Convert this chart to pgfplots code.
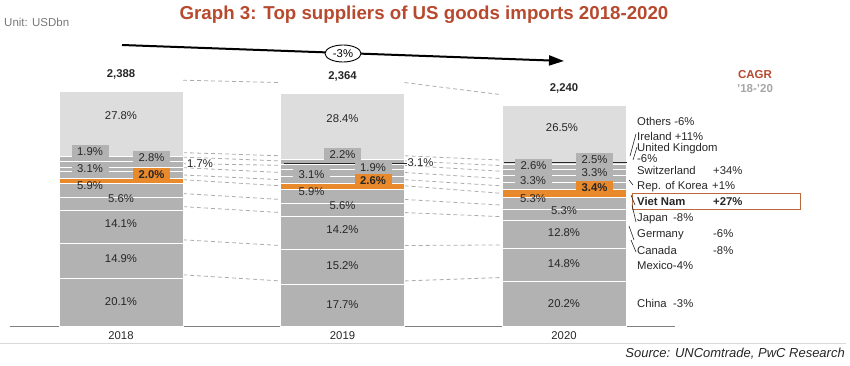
\documentclass[border=0pt]{standalone}
\usepackage{fontspec}
\setmainfont{Liberation Sans}
\usepackage{pgfplots}
\pgfplotsset{compat=1.18}
\usepackage{pgfplotstable}
\usetikzlibrary{arrows.meta,shapes.geometric}

\definecolor{stackgray}{RGB}{178,178,178}
\definecolor{othersgray}{RGB}{221,221,221}
\definecolor{vnorange}{RGB}{232,137,43}
\definecolor{dashgray}{RGB}{172,172,172}
\definecolor{titlered}{RGB}{183,73,46}
\definecolor{txt}{RGB}{38,38,38}
\definecolor{basegray}{RGB}{128,128,128}
\definecolor{unitgray}{RGB}{120,120,120}
\definecolor{periodgray}{RGB}{165,165,165}
\definecolor{boxbrown}{RGB}{185,105,60}

% values in USD bn (share x total)
\pgfplotstableread{
x china mexico canada germany japan vn korea swiss uk ireland others
0 480.0 355.8 336.7 133.7 140.9 47.8 74.0 40.6 66.9 45.4 666.2
1 418.4 359.3 335.7 132.4 139.5 61.5 73.3 73.3 44.9 52.0 673.7
2 452.5 331.5 286.7 118.7 118.7 76.2 73.9 73.9 58.2 56.0 593.7
}\suppliers

\newcommand{\lblfont}{\fontsize{11.3}{13}\selectfont}

\begin{document}
\begin{tikzpicture}
\useasboundingbox (0,0) rectangle (850pt,365pt);
\tikzset{
  lbl/.style={font=\lblfont, text=txt, text height=8.1pt, text depth=0pt, inner sep=0pt},
  box/.style={lbl, fill=stackgray, minimum width=37pt, minimum height=12pt},
  obox/.style={box, fill=vnorange, font=\lblfont\bfseries},
  conn/.style={dashgray, line width=0.8pt, dash pattern=on 4pt off 3pt, no marks},
}
\pgfplotsset{common/.style={x=221.5pt, y=0.0984pt, xmin=-0.5, xmax=2.5,
  ymin=0, ymax=2700, anchor=south west, at={(10.25pt,39pt)}, clip=false}}

% dashed connectors between the bars
\begin{axis}[common, hide axis]
\addplot[conn] coordinates {(0.28,520) (0.72,458)};
\addplot[conn] coordinates {(0.28,876) (0.72,818)};
\addplot[conn] coordinates {(0.28,1213) (0.72,1153)};
\addplot[conn] coordinates {(0.28,1346) (0.72,1286)};
\addplot[conn] coordinates {(0.28,1487) (0.72,1425)};
\addplot[conn] coordinates {(0.28,1535) (0.72,1487)};
\addplot[conn] coordinates {(0.28,1609) (0.72,1560)};
\addplot[conn] coordinates {(0.28,1650) (0.72,1633)};
\addplot[conn] coordinates {(0.28,1716) (0.72,1678)};
\addplot[conn] coordinates {(0.28,1762) (0.72,1730)};
\addplot[conn] coordinates {(0.28,2498) (0.72,2474)};
\addplot[conn] coordinates {(1.28,458) (1.72,493)};
\addplot[conn] coordinates {(1.28,818) (1.72,824)};
\addplot[conn] coordinates {(1.28,1153) (1.72,1111)};
\addplot[conn] coordinates {(1.28,1286) (1.72,1229)};
\addplot[conn] coordinates {(1.28,1425) (1.72,1348)};
\addplot[conn] coordinates {(1.28,1487) (1.72,1424)};
\addplot[conn] coordinates {(1.28,1560) (1.72,1498)};
\addplot[conn] coordinates {(1.28,1633) (1.72,1572)};
\addplot[conn] coordinates {(1.28,1678) (1.72,1630)};
\addplot[conn] coordinates {(1.28,1730) (1.72,1686)};
\addplot[conn] coordinates {(1.28,2474) (1.72,2350)};
\end{axis}

% stacked bars
\begin{axis}[common, ybar stacked, bar width=124pt,
  axis x line=bottom, axis y line=none, ytick=\empty,
  x axis line style={draw=basegray, line width=1pt, -},
  xtick={0,1,2}, xticklabels={2018,2019,2020}, major tick length=0pt,
  xticklabel style={font=\lblfont, text=txt, yshift=-2pt},
  /pgf/number format/assume math mode=true,
  every axis plot/.append style={draw=white, line width=0.9pt}]
\addplot[fill=stackgray] table[x=x, y=china] {\suppliers};
\addplot[fill=stackgray] table[x=x, y=mexico] {\suppliers};
\addplot[fill=stackgray] table[x=x, y=canada] {\suppliers};
\addplot[fill=stackgray] table[x=x, y=germany] {\suppliers};
\addplot[fill=stackgray] table[x=x, y=japan] {\suppliers};
\addplot[fill=vnorange] table[x=x, y=vn] {\suppliers};
\addplot[fill=stackgray] table[x=x, y=korea] {\suppliers};
\addplot[fill=stackgray] table[x=x, y=swiss] {\suppliers};
\addplot[fill=stackgray] table[x=x, y=uk] {\suppliers};
\addplot[fill=stackgray] table[x=x, y=ireland] {\suppliers};
\addplot[fill=othersgray] table[x=x, y=others] {\suppliers};
\end{axis}

% value labels on top of the bars
\begin{axis}[common, hide axis]
% 2018
\node[lbl] at (axis cs:0,2144) {27.8\%};
\node[box, xshift=-31pt] at (axis cs:0,1778) {1.9\%};
\node[box, xshift=30.5pt] at (axis cs:0,1717) {2.8\%};
\node[box, xshift=-31pt] at (axis cs:0,1606) {3.1\%};
\node[obox, xshift=30.5pt] at (axis cs:0,1545) {2.0\%};
\node[lbl, xshift=-31pt] at (axis cs:0,1433) {5.9\%};
\node[lbl] at (axis cs:0,1301) {5.6\%};
\node[lbl] at (axis cs:0,1047) {14.1\%};
\node[lbl] at (axis cs:0,691) {14.9\%};
\node[lbl] at (axis cs:0,254) {20.1\%};
\draw[txt, line width=0.9pt] (axis cs:0,1656) ++(52pt,0) -- ++(12pt,0);
\node[lbl, anchor=west, fill=white, inner xsep=1pt, xshift=65pt] at (axis cs:0,1656) {1.7\%};
\node[lbl, font=\lblfont\bfseries] at (axis cs:0,2571) {2,388};
% 2019
\node[lbl] at (axis cs:1,2114) {28.4\%};
\node[box] at (axis cs:1,1743) {2.2\%};
\node[box, xshift=-31pt] at (axis cs:1,1545) {3.1\%};
\node[box, xshift=30.5pt] at (axis cs:1,1616) {1.9\%};
\node[obox, xshift=30.5pt] at (axis cs:1,1484) {2.6\%};
\node[lbl, xshift=-31pt] at (axis cs:1,1372) {5.9\%};
\node[lbl] at (axis cs:1,1230) {5.6\%};
\node[lbl] at (axis cs:1,986) {14.2\%};
\node[lbl] at (axis cs:1,620) {15.2\%};
\node[lbl] at (axis cs:1,224) {17.7\%};
\draw[txt, line width=0.9pt] (axis cs:1,1667) ++(51pt,0) -- ++(12pt,0);
\node[lbl, anchor=west, fill=white, inner xsep=1pt, xshift=64pt] at (axis cs:1,1667) {3.1\%};
\node[lbl, font=\lblfont\bfseries] at (axis cs:1,2551) {2,364};
% 2020
\node[lbl, xshift=-2pt] at (axis cs:2,2022) {26.5\%};
\node[box, xshift=-30.5pt] at (axis cs:2,1636) {2.6\%};
\node[box, xshift=30.5pt] at (axis cs:2,1697) {2.5\%};
\node[box, xshift=-31pt] at (axis cs:2,1484) {3.3\%};
\node[box, xshift=30.5pt] at (axis cs:2,1565) {3.3\%};
\node[obox, xshift=30.5pt] at (axis cs:2,1408) {3.4\%};
\node[lbl, xshift=-31pt] at (axis cs:2,1301) {5.3\%};
\node[lbl] at (axis cs:2,1179) {5.3\%};
\node[lbl] at (axis cs:2,955) {12.8\%};
\node[lbl] at (axis cs:2,640) {14.8\%};
\node[lbl] at (axis cs:2,234) {20.2\%};
\node[lbl, font=\lblfont\bfseries] at (axis cs:2,2429) {2,240};
\end{axis}

% annotations in pixel coordinates (y downwards)
\begin{scope}[shift={(0pt,365pt)}, x=1pt, y=-1pt]
\node[font=\fontsize{18.7}{22}\selectfont\bfseries, text=titlered, text height=13.4pt, text depth=0pt, inner sep=0pt] at (424,13) {Graph 3: Top suppliers of US goods imports 2018-2020};
\node[lbl, text=unitgray, anchor=west, font=\fontsize{11.5}{13}\selectfont] at (4,22) {Unit: USDbn};
\draw[black, line width=2pt, -{Triangle[length=15pt,width=10pt]}] (122,45) -- (564,61);
\node[draw=black, fill=white, ellipse, line width=0.9pt, minimum width=36pt, minimum height=17pt, inner sep=0pt, font=\lblfont, text height=8.1pt, text depth=0pt] at (343,53.5) {-3\%};
\node[lbl, text=titlered, font=\fontsize{11.5}{13}\selectfont\bfseries] at (755,74) {CAGR};
\node[lbl, text=periodgray, font=\fontsize{11.5}{13}\selectfont\bfseries] at (755,88) {'18-'20};
% legend
\node[lbl, anchor=west] at (637,121) {Others -6\%};
\node[lbl, anchor=west] at (637,136) {Ireland +11\%};
\node[lbl, anchor=west] at (637,147) {United Kingdom};
\node[lbl, anchor=west] at (637,158.5) {-6\%};
\node[lbl, anchor=west] at (637,170) {Switzerland};
\node[lbl, anchor=west] at (713,170) {+34\%};
\node[lbl, anchor=west] at (637,185) {Rep. of Korea};
\node[lbl, anchor=west] at (712,185) {+1\%};
\node[lbl, anchor=west, font=\lblfont\bfseries] at (637,201) {Viet Nam};
\node[lbl, anchor=west, font=\lblfont\bfseries] at (713,201) {+27\%};
\draw[boxbrown, line width=0.9pt] (632,193) rectangle (800,209);
\node[lbl, anchor=west] at (637,217) {Japan};
\node[lbl, anchor=west] at (673,217) {-8\%};
\node[lbl, anchor=west] at (637,233) {Germany};
\node[lbl, anchor=west] at (713,233) {-6\%};
\node[lbl, anchor=west] at (637,250) {Canada};
\node[lbl, anchor=west] at (713,250) {-8\%};
\node[lbl, anchor=west] at (637,265) {Mexico-4\%};
\node[lbl, anchor=west] at (637,303) {China};
\node[lbl, anchor=west] at (673,303) {-3\%};
\draw[txt, line width=0.6pt] (636,134) -- (630,156);
\draw[txt, line width=0.6pt] (637,147) -- (633,160);
\draw[txt, line width=0.6pt] (629,180) -- (633,185);
\draw[txt, line width=0.6pt] (631,195) -- (635,205);
\draw[txt, line width=0.6pt] (632,205) -- (636,222);
\draw[txt, line width=0.6pt] (629,226) -- (634,240);
\draw[txt, line width=0.6pt] (631,240) -- (636,252);
% bottom rule and source
\draw[black!15, line width=1pt] (0,343.5) -- (846,343.5);
\node[lbl, anchor=east, font=\fontsize{13}{15}\selectfont\itshape, text height=9.3pt] at (845,353) {Source: UNComtrade, PwC Research};
\end{scope}
\end{tikzpicture}
\end{document}
